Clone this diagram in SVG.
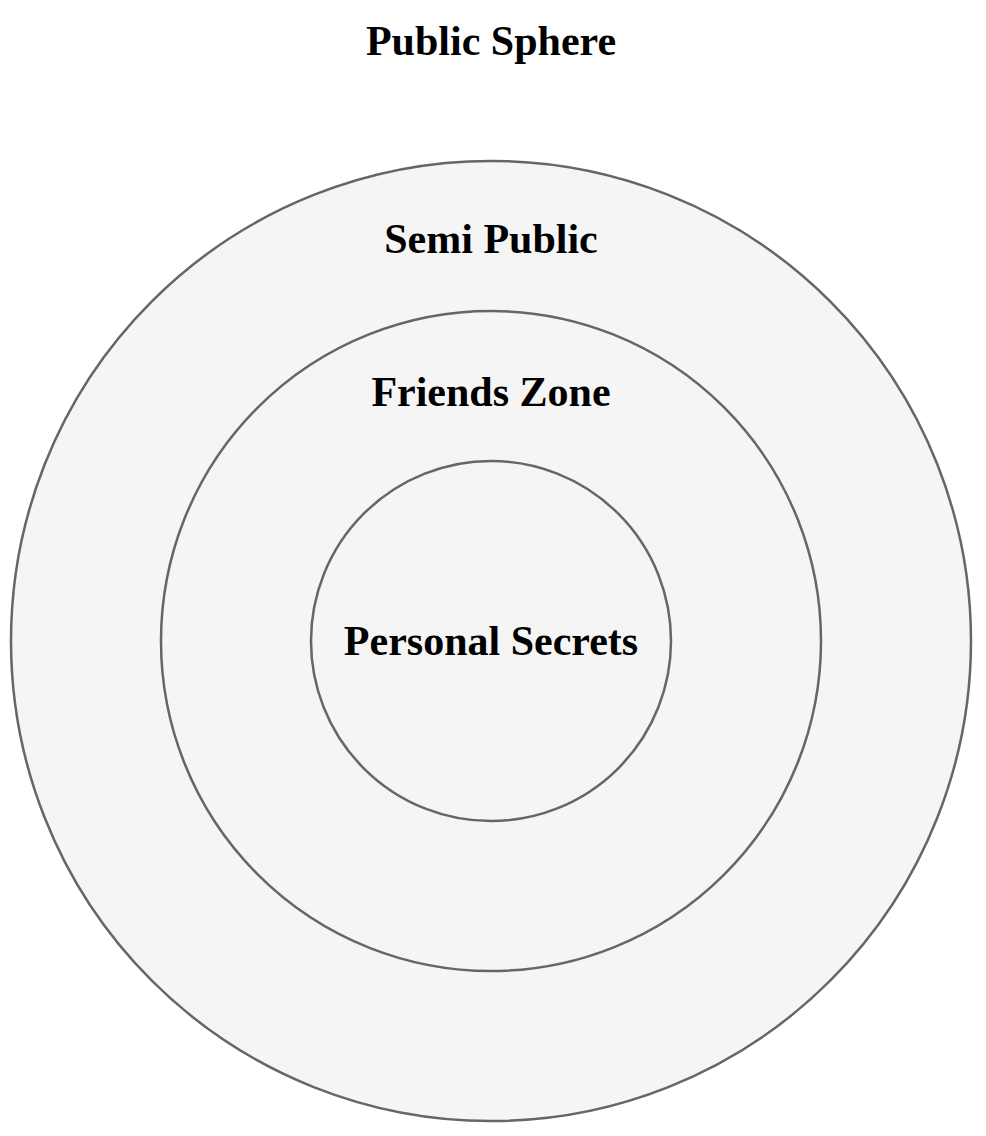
<svg xmlns="http://www.w3.org/2000/svg" width="986" height="1136" viewBox="0 0 986 1136">
  <style>
    .ring { fill: #f5f5f5; stroke: #666666; stroke-width: 2.5; }
    .label { font-family: "Liberation Serif", "Times New Roman", serif; font-weight: bold; font-size: 42px; fill: #000000; text-anchor: middle; }
  </style>
  <rect width="986" height="1136" fill="#ffffff"/>
  <g id="public-sphere">
    <text class="label" x="491" y="55">Public Sphere</text>
  </g>
  <g id="semi-public">
    <circle class="ring" cx="491" cy="641" r="480"/>
    <text class="label" x="491" y="253">Semi Public</text>
  </g>
  <g id="friends-zone">
    <circle class="ring" cx="491" cy="641" r="330"/>
    <text class="label" x="491" y="406">Friends Zone</text>
  </g>
  <g id="personal-secrets">
    <circle class="ring" cx="491" cy="641" r="180"/>
    <text class="label" x="491" y="655">Personal Secrets</text>
  </g>
  <g id="connectors"/>
</svg>
